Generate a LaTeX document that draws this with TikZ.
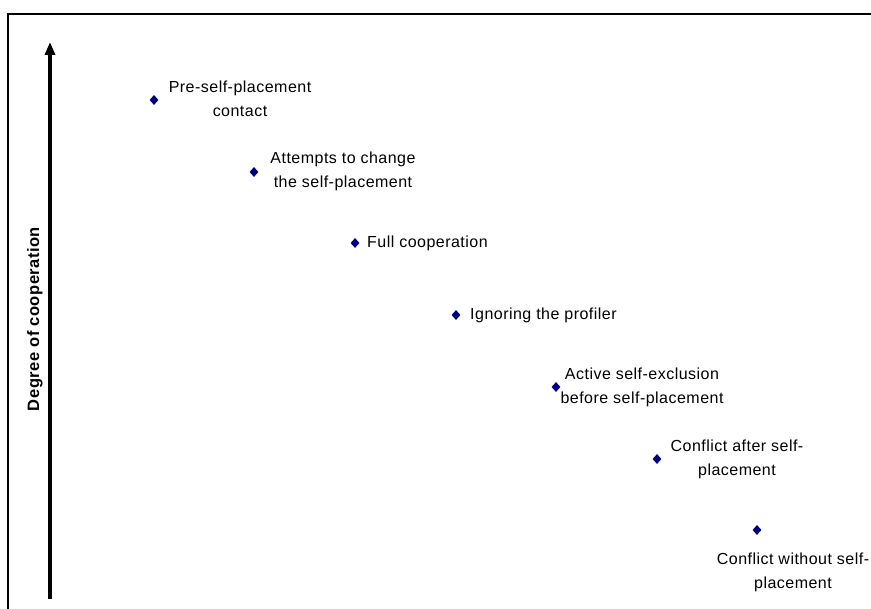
\documentclass[tikz,border=0pt]{standalone}
\usepackage{fontspec}
\setmainfont{Liberation Sans}[LetterSpace=3]
\usetikzlibrary{shapes.geometric,arrows.meta}
\definecolor{ptnavy}{HTML}{000080}
\begin{document}
\begin{tikzpicture}[x=1pt,y=-1pt,
  pt/.style={diamond,fill=ptnavy,inner sep=0pt,minimum width=9pt,minimum height=10pt},
  lbl/.style={align=center,inner sep=0pt,font=\fontsize{16}{24}\selectfont},
  lblw/.style={anchor=west,inner sep=0pt,font=\fontsize{16}{24}\selectfont}]
\useasboundingbox (0,0) rectangle (871,609);
\draw[line width=2pt] (8,620) -- (8,14) -- (880,14);
\coordinate (ab) at (50,599);
\coordinate (at) at (50,42);
\draw[line width=3.2pt,-{Triangle[length=13pt,width=10pt]}] (ab) -- (at);
\node[rotate=90,inner sep=0pt,font=\fontsize{16.5}{18}\selectfont\bfseries] (ylab) at (35,319) {Degree of cooperation};
\node[pt] (p1) at (154,100) {};
\node[pt] (p2) at (254,172) {};
\node[pt] (p3) at (355,243) {};
\node[pt] (p4) at (456,315) {};
\node[pt] (p5) at (556,387) {};
\node[pt] (p6) at (657,459) {};
\node[pt] (p7) at (757,530) {};
\node[lbl] (l1) at (240,99) {Pre-self-placement\\contact};
\node[lbl] (l2) at (343,171) {Attempts to change\\the self-placement};
\node[lblw] (l3) at (367,243) {Full cooperation};
\node[lblw] (l4) at (470,315) {Ignoring the profiler};
\node[lbl] (l5) at (642,387) {Active self-exclusion\\before self-placement};
\node[lbl] (l6) at (737,459) {Conflict after self-\\placement};
\node[lbl] (l7) at (793,572) {Conflict without self-\\placement};
\end{tikzpicture}
\end{document}
